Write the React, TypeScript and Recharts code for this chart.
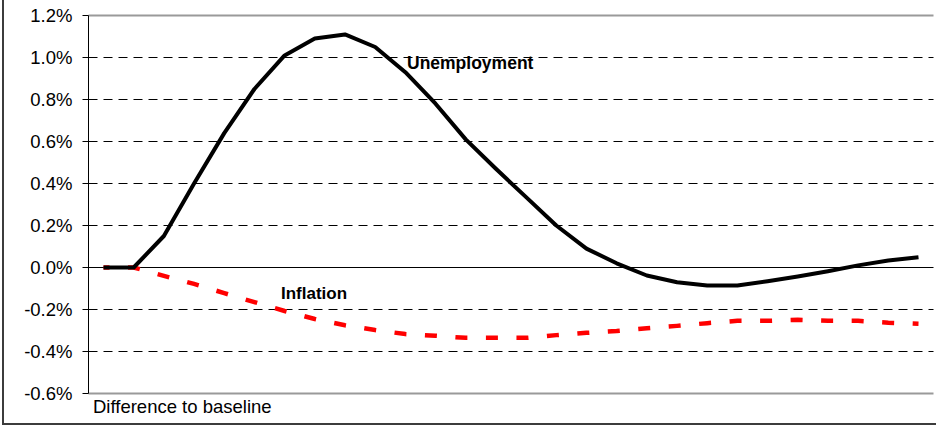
import React from 'react';
import { LineChart, Line, XAxis, YAxis, ReferenceLine } from 'recharts';

const periods = Array.from({ length: 28 }, (_, i) => String(i + 1));
const unemployment = [0, 0, 0.15, 0.4, 0.64, 0.85, 1.01, 1.09, 1.11, 1.05, 0.93, 0.78, 0.61, 0.47, 0.335, 0.2, 0.09, 0.02, -0.038, -0.07, -0.086, -0.086, -0.065, -0.043, -0.018, 0.01, 0.033, 0.049];
const inflation = [0, 0, -0.04, -0.078, -0.122, -0.165, -0.207, -0.245, -0.275, -0.298, -0.317, -0.325, -0.335, -0.335, -0.335, -0.322, -0.311, -0.302, -0.289, -0.278, -0.265, -0.254, -0.254, -0.249, -0.254, -0.254, -0.263, -0.268];
const yTicks = [-0.6, -0.4, -0.2, 0, 0.2, 0.4, 0.6, 0.8, 1.0, 1.2];
const dashedGrid = [1.0, 0.8, 0.6, 0.4, 0.2, -0.2, -0.4];
const borderLines = [1.2, -0.6];

const data = periods.map((p, i) => ({ period: p, unemployment: unemployment[i], inflation: inflation[i] }));

const FONT = '"Liberation Sans", Arial, Helvetica, sans-serif';

export default function App() {
  return (
    <div style={{ position: 'absolute', left: 0, top: 0, width: 936, height: 427, overflow: 'hidden', background: '#fff', fontFamily: FONT }}>
      <div style={{ position: 'absolute', left: 2, top: -10, width: 960, height: 435, boxSizing: 'border-box', border: '2px solid #3c3c3c' }} />
      <div style={{ position: 'absolute', left: 0, top: 0 }}>
        <LineChart width={936} height={427} data={data} margin={{ top: 15.5, right: 2.5, bottom: 33.5, left: 0.5 }}>
          <XAxis dataKey="period" hide padding={{ left: 15, right: 15 }} />
          <YAxis
            width={88}
            domain={[-0.6, 1.2]}
            ticks={yTicks}
            interval={0}
            tickFormatter={(v: number) => v.toFixed(1) + '%'}
            tick={{ fontSize: 18.5, fill: '#000', fontFamily: FONT }}
            tickSize={6}
            tickMargin={10}
            axisLine={{ stroke: '#000', strokeWidth: 1 }}
            tickLine={{ stroke: '#000' }}
          />
          <YAxis
            yAxisId="frame"
            orientation="right"
            width={0}
            domain={[-0.6, 1.2]}
            tick={false}
            tickLine={false}
            axisLine={{ stroke: '#9a9a9a', strokeWidth: 2 }}
          />
          {dashedGrid.map((v) => (
            <ReferenceLine key={v} y={v} stroke="#000" strokeWidth={1} strokeDasharray="9 6" />
          ))}
          {borderLines.map((v) => (
            <ReferenceLine key={'b' + v} y={v} stroke="#9a9a9a" strokeWidth={2} />
          ))}
          <ReferenceLine y={0} stroke="#000" strokeWidth={1} />
          <Line
            dataKey="inflation"
            type="linear"
            stroke="#ff0000"
            strokeWidth={4.5}
            strokeDasharray="12 18.54"
            strokeDashoffset={6}
            strokeLinecap="butt"
            dot={false}
            activeDot={false}
            isAnimationActive={false}
          />
          <Line
            dataKey="unemployment"
            type="linear"
            stroke="#000"
            strokeWidth={4}
            strokeLinejoin="round"
            dot={false}
            activeDot={false}
            isAnimationActive={false}
          />
        </LineChart>
      </div>
      <div style={{ position: 'absolute', left: 407, top: 55.4, fontSize: 17.5, lineHeight: '17px', fontWeight: 'bold', color: '#000', whiteSpace: 'nowrap' }}>Unemployment</div>
      <div style={{ position: 'absolute', left: 281, top: 285, fontSize: 17, lineHeight: '17px', fontWeight: 'bold', color: '#000', whiteSpace: 'nowrap' }}>Inflation</div>
      <div style={{ position: 'absolute', left: 93, top: 398, fontSize: 18.5, lineHeight: '18px', color: '#000', whiteSpace: 'nowrap' }}>Difference to baseline</div>
    </div>
  );
}
